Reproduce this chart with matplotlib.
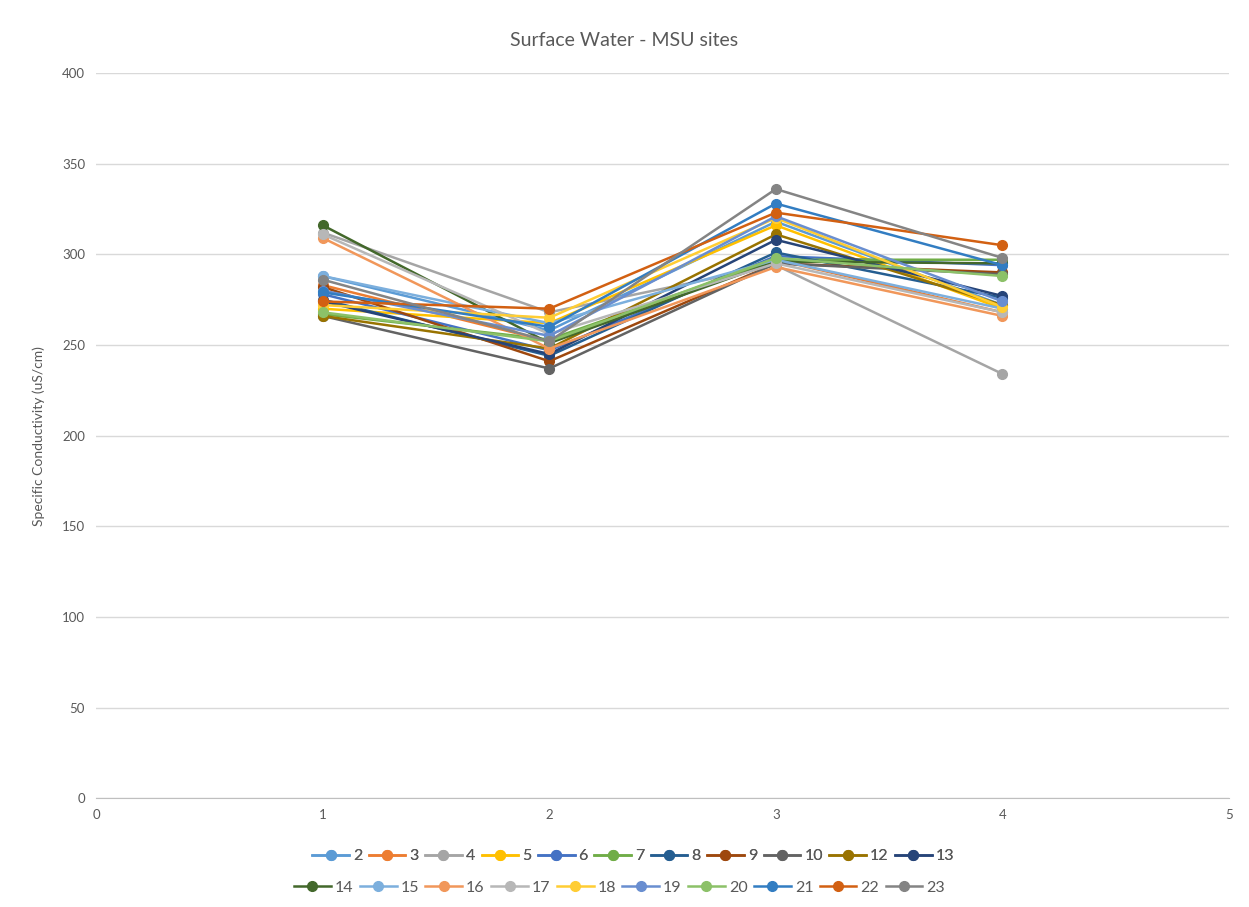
import numpy as np
import matplotlib.pyplot as plt

# Specific conductivity at MSU surface water sites, four sampling events
events = [1, 2, 3, 4]
sites = ['2', '3', '4', '5', '6', '7', '8', '9', '10', '12', '13',
         '14', '15', '16', '17', '18', '19', '20', '21', '22', '23']

site_2 = [288, 258, 318, 272]
site_3 = [283, 252, 297, 268]
site_4 = [312, 268, 294, 234]
site_5 = [270, 262, 316, 270]
site_6 = [278, 247, 299, 294]
site_7 = [267, 253, 297, 297]
site_8 = [275, 244, 301, 276]
site_9 = [282, 241, 295, 290]
site_10 = [266, 237, 295, 289]
site_12 = [266, 248, 311, 272]
site_13 = [274, 245, 308, 277]
site_14 = [316, 251, 296, 295]
site_15 = [288, 262, 297, 270]
site_16 = [309, 248, 293, 266]
site_17 = [311, 256, 295, 268]
site_18 = [272, 265, 320, 271]
site_19 = [280, 255, 321, 274]
site_20 = [268, 252, 298, 288]
site_21 = [279, 260, 328, 294]
site_22 = [274, 270, 323, 305]
site_23 = [286, 252, 336, 298]

series = [site_2, site_3, site_4, site_5, site_6, site_7, site_8, site_9,
          site_10, site_12, site_13, site_14, site_15, site_16, site_17,
          site_18, site_19, site_20, site_21, site_22, site_23]

colors = ['#5B9BD5', '#ED7D31', '#A5A5A5', '#FFC000', '#4472C4', '#70AD47',
          '#255E91', '#9E480E', '#636363', '#997300', '#264478',
          '#43682B', '#7CAFDD', '#F1975A', '#B7B7B7', '#FFCD33', '#698ED0',
          '#8CC168', '#327DC2', '#D26012', '#848484']

plt.rcParams['font.family'] = ['Lato', 'DejaVu Sans']
text_col = '#595959'

fig = plt.figure(figsize=(12.49, 9.07), dpi=100)
ax = fig.add_axes([0.077, 0.12, 0.907, 0.7995])

handles = []
for name, vals, c in zip(sites, series, colors):
    h, = ax.plot(events, vals, '-o', color=c, lw=1.8, ms=7, label=name)
    handles.append(h)

ax.set_xlim(0, 5)
ax.set_ylim(0, 400)
ax.set_yticks(np.arange(0, 401, 50))
ax.set_xticks(range(0, 6))
ax.yaxis.grid(True, color='#D9D9D9', lw=1)
ax.set_axisbelow(True)
for s in ['top', 'right', 'left']:
    ax.spines[s].set_visible(False)
ax.spines['bottom'].set_color('#BFBFBF')
ax.tick_params(axis='both', length=0, labelsize=9.5, colors=text_col, pad=8)
ax.set_ylabel('Specific Conductivity (uS/cm)', fontsize=10, color=text_col, labelpad=12)

fig.suptitle('Surface Water - MSU sites', y=0.965, fontsize=14, color=text_col)

# Legend laid out as two centred rows
leg_kw = dict(frameon=False, fontsize=11.5, handlelength=2.3, handletextpad=0.25,
              columnspacing=0.4, labelcolor=text_col, loc='center')
leg1 = fig.legend(handles[:11], sites[:11], ncol=11, bbox_to_anchor=(0.507, 0.056), **leg_kw)
fig.add_artist(leg1)
fig.legend(handles[11:], sites[11:], ncol=10, bbox_to_anchor=(0.496, 0.021), **leg_kw)

fig.savefig('out.png', dpi=100)
